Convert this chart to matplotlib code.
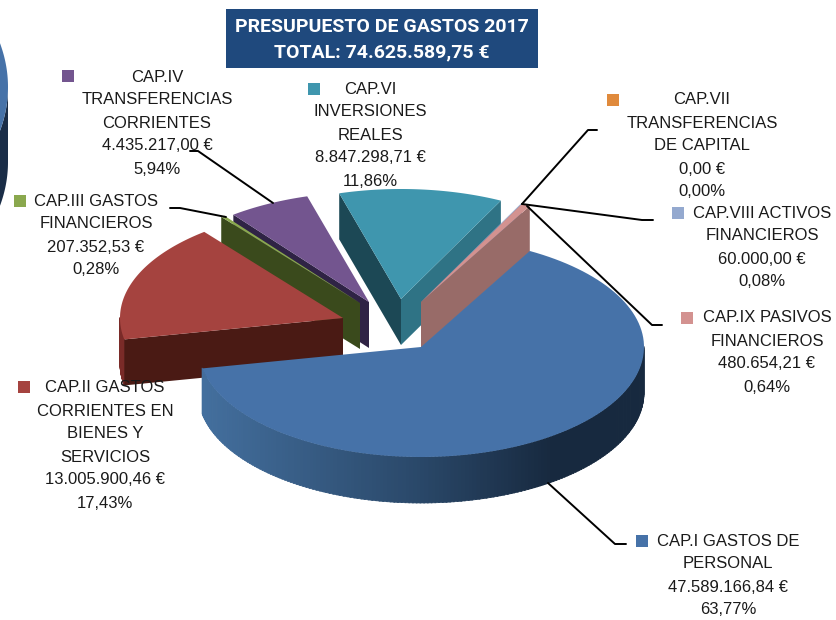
import numpy as np
import matplotlib
matplotlib.use('Agg')
import matplotlib.pyplot as plt
from matplotlib.patches import Polygon, Rectangle

plt.rcParams['font.family'] = ['Liberation Sans', 'DejaVu Sans']

# chart data
chapters = ['CAP.I GASTOS DE\nPERSONAL', 'CAP.II GASTOS\nCORRIENTES EN\nBIENES Y\nSERVICIOS',
            'CAP.III GASTOS\nFINANCIEROS', 'CAP.IV\nTRANSFERENCIAS\nCORRIENTES', 'CAP.VI\nINVERSIONES\nREALES',
            'CAP.VII\nTRANSFERENCIAS\nDE CAPITAL', 'CAP.VIII ACTIVOS\nFINANCIEROS', 'CAP.IX PASIVOS\nFINANCIEROS']
amounts = ['47.589.166,84 €', '13.005.900,46 €', '207.352,53 €', '4.435.217,00 €',
           '8.847.298,71 €', '0,00 €', '60.000,00 €', '480.654,21 €']
percents = [63.77, 17.43, 0.28, 5.94, 11.86, 0.00, 0.08, 0.64]
title_lines = ['PRESUPUESTO DE GASTOS 2017', 'TOTAL: 74.625.589,75 €']

# styling, all in pixels of the 836x620 picture
top_colors = ['#4672a8', '#a5433f', '#8aa84e', '#73558f', '#3f96ae', '#e08a3c', '#94a9cf', '#d39290']
face_start = ['#3f6a9c', '#4a1a14', '#3a4a1c', '#2f2345', '#1c4855', '#8a5020', '#5a6f8f', '#986b68']
face_end = ['#3f6a9c', '#4a1a14', '#3a4a1c', '#2f2345', '#2f7385', '#8a5020', '#5a6f8f', '#986b68']
vertex_x = [421, 343, 360, 369, 401, 421, 421, 421]
vertex_y = [347, 318, 303, 302, 299, 302, 302, 302]
square_x = [636, 18, 14, 62, 308, 607, 672, 681]
square_y = [535, 381, 195, 70, 83, 94, 207, 312]
label_x = [728, 105, 96, 157, 370, 702, 762, 767]
label_y = [541, 388, 201, 77, 89, 100, 213, 318]
rx, ry, depth = 223, 110, 46
start_angle = 60.8
pitch = 23


def arc(cx, cy, a0, a1, n=120, w=rx, h=ry):
    t = np.radians(np.linspace(a0, a1, n))
    return np.column_stack([cx + w * np.cos(t), cy - h * np.sin(t)])


def mix(c0, c1, f):
    c0 = np.array(matplotlib.colors.to_rgb(c0))
    c1 = np.array(matplotlib.colors.to_rgb(c1))
    return tuple(c0 + (c1 - c0) * f)


fig = plt.figure(figsize=(8.36, 6.2), dpi=100)
ax = fig.add_axes([0, 0, 1, 1])
ax.set_xlim(0, 836)
ax.set_ylim(620, 0)
ax.axis('off')

# leftover copy of the pie at the left border
edge = arc(-322, 87, 30, -30, w=330, h=200)
lower = arc(-322, 87, 0, -30, w=330, h=200)
ax.add_patch(Polygon(np.vstack([lower, lower[::-1] + [0, 75]]), fc='#1a2d47', ec='none', zorder=1))
ax.add_patch(Polygon(np.vstack([edge, [[-322, 87]]]), fc='#4672a8', ec='none', zorder=1.1))

# angles come from the percentages, clockwise
ends = start_angle - np.cumsum(percents) * 3.6
starts = np.concatenate([[start_angle], ends[:-1]])

# back slices first, then the red one, the big blue one last
order = [4, 5, 6, 7, 3, 2, 1, 0]
for z, i in enumerate(order):
    if percents[i] == 0:
        continue
    cx, cy = vertex_x[i], vertex_y[i]
    a0, a1 = starts[i], ends[i]
    base = 2 + z
    p0 = arc(cx, cy, a0, a0, 1)[0]
    p1 = arc(cx, cy, a1, a1, 1)[0]
    v = np.array([cx, cy])
    d = np.array([0, depth])

    # outer rim only where it faces the viewer
    ts = np.linspace(a0, a1, 240)
    for t0, t1 in zip(ts[:-1], ts[1:]):
        if np.sin(np.radians((t0 + t1) / 2)) >= 0:
            continue
        q = arc(cx, cy, t0, t1 - 0.3, 2)
        f = (q[0, 0] - (cx - rx)) / (2 * rx)
        if f < 0.5:
            col = mix('#44709f', '#2a4869', f / 0.5)
        else:
            col = mix('#2a4869', '#17293f', min((f - 0.5) / 0.3, 1))
        if i == 1:
            col = '#7a2b28'
        ax.add_patch(Polygon(np.vstack([q, q[::-1] + d]), fc=col, ec=col, lw=0.5, zorder=base))

    # cut faces, only those turned towards the viewer
    if np.cos(np.radians(a0)) < 0:
        ax.add_patch(Polygon([v, p0, p0 + d, v + d], fc=face_start[i], ec='none', zorder=base + 0.1))
    if np.cos(np.radians(a1)) > 0:
        ax.add_patch(Polygon([v, p1, p1 + d, v + d], fc=face_end[i], ec='none', zorder=base + 0.2))
    # top face
    ax.add_patch(Polygon(np.vstack([[v], arc(cx, cy, a0, a1)]), fc=top_colors[i], ec='none', zorder=base + 0.5))

# leader lines
leaders = [([548, 615, 626], [483, 544, 544]),
           ([190, 198, 273], [151, 151, 203]),
           ([170, 180, 226], [208, 208, 217]),
           ([522, 588, 597], [204, 130, 130]),
           ([522, 642, 653], [204, 220, 220]),
           ([527, 652, 662], [206, 325, 325])]
for lx, ly in leaders:
    ax.plot(lx, ly, color='black', lw=1.4, zorder=20, solid_capstyle='round')

# data labels with their coloured squares
for i in range(len(chapters)):
    ax.add_patch(Rectangle((square_x[i], square_y[i]), 12, 12, fc=top_colors[i], ec='none', zorder=21))
    lines = chapters[i].split('\n') + [amounts[i], f'{percents[i]:.2f}%'.replace('.', ',')]
    for k, line in enumerate(lines):
        ax.text(label_x[i], label_y[i] + k * pitch, line, ha='center', va='center', fontsize=12,
                color='#1a1a1a', zorder=22)

# title box
ax.add_patch(Rectangle((226, 9), 312, 59, fc='#1f497d', ec='none', zorder=23))
ax.text(382, 27, title_lines[0], ha='center', va='center', color='white', fontsize=14,
        fontweight='bold', family=['Roboto', 'DejaVu Sans'], zorder=24)
ax.text(382, 52, title_lines[1], ha='center', va='center', color='white', fontsize=14,
        fontweight='bold', family=['Roboto', 'DejaVu Sans'], zorder=24)

fig.savefig('out.png', dpi=100)
